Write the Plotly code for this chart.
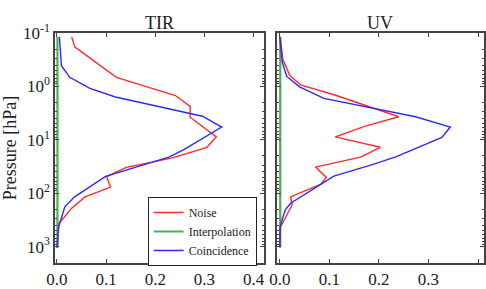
import plotly.graph_objects as go

# ---- data ----
tir_noise_x = [0.030, 0.036, 0.121, 0.241, 0.271, 0.271, 0.324, 0.305, 0.233, 0.141, 0.101, 0.109, 0.057, 0.030, 0.004, 0.001]
tir_noise_p = [0.118, 0.182, 0.675, 1.48, 2.37, 3.78, 8.83, 13.8, 22.0, 32.7, 49.0, 77.0, 117, 190, 370, 1040]

tir_coin_x = [0.005, 0.009, 0.026, 0.067, 0.119, 0.296, 0.335, 0.259, 0.229, 0.099, 0.036, 0.016, 0.003, 0.000]
tir_coin_p = [0.118, 0.41, 0.675, 1.09, 1.58, 3.62, 5.76, 15.1, 20.8, 48.4, 117, 179, 437, 1040]

tir_interp_x = [0.001, 0.001]
tir_interp_p = [0.118, 1040]

uv_noise_x = [0.001, 0.006, 0.020, 0.042, 0.111, 0.179, 0.240, 0.171, 0.112, 0.203, 0.163, 0.072, 0.094, 0.083, 0.022, 0.025, 0.001, 0.000]
uv_noise_p = [0.118, 0.306, 0.62, 0.94, 1.45, 2.34, 3.70, 5.6, 8.8, 13.8, 21.1, 32.4, 50.5, 67.5, 117, 166, 437, 1040]

uv_coin_x = [0.000, 0.005, 0.014, 0.040, 0.089, 0.169, 0.274, 0.344, 0.327, 0.234, 0.185, 0.109, 0.069, 0.042, 0.022, 0.011, 0.001, 0.000]
uv_coin_p = [0.118, 0.35, 0.65, 1.02, 1.68, 2.39, 3.70, 5.76, 9.0, 20.8, 29.4, 47.8, 83, 117, 154, 204, 406, 1020]

uv_interp_x = [0.001, 0.001]
uv_interp_p = [0.118, 1040]

x_ticks = [0.0, 0.1, 0.2, 0.3, 0.4]
x_ticktext = ["0.0", "0.1", "0.2", "0.3", "0.4"]
y_ticks = [0.1, 1, 10, 100, 1000]
y_ticktext = ["10<sup>-1</sup>", "10<sup>0</sup>", "10<sup>1</sup>", "10<sup>2</sup>", "10<sup>3</sup>"]
minor_vals = [m * 10 ** e for e in range(-1, 4) for m in range(2, 10)]

RED = "#ff2a2a"
GREEN = "#4caf50"
BLUE = "#2a2aff"
FONT = "Liberation Serif, Times New Roman, serif"

fig = go.Figure()
# left panel
fig.add_trace(go.Scatter(x=tir_noise_x, y=tir_noise_p, mode="lines", name="Noise",
                         line=dict(color=RED, width=1.4), xaxis="x", yaxis="y"))
fig.add_trace(go.Scatter(x=tir_interp_x, y=tir_interp_p, mode="lines", name="Interpolation",
                         line=dict(color=GREEN, width=2.2), xaxis="x", yaxis="y"))
fig.add_trace(go.Scatter(x=tir_coin_x, y=tir_coin_p, mode="lines", name="Coincidence",
                         line=dict(color=BLUE, width=1.4), xaxis="x", yaxis="y"))
# right panel
fig.add_trace(go.Scatter(x=uv_interp_x, y=uv_interp_p, mode="lines", showlegend=False,
                         line=dict(color=GREEN, width=2.2), xaxis="x2", yaxis="y2"))
fig.add_trace(go.Scatter(x=uv_noise_x, y=uv_noise_p, mode="lines", showlegend=False,
                         line=dict(color=RED, width=1.4), xaxis="x2", yaxis="y2"))
fig.add_trace(go.Scatter(x=uv_coin_x, y=uv_coin_p, mode="lines", showlegend=False,
                         line=dict(color=BLUE, width=1.4), xaxis="x2", yaxis="y2"))

def axis_common():
    return dict(showline=True, linecolor="#444", linewidth=1.5, mirror="allticks",
                ticks="inside", ticklen=4, tickcolor="#444", showgrid=False, zeroline=False,
                tickfont=dict(family=FONT, size=17, color="#222"))

fig.update_layout(
    width=486, height=289,
    margin=dict(l=55, r=0, t=33, b=17),
    paper_bgcolor="white", plot_bgcolor="white",
    font=dict(family=FONT, color="#222"),
    xaxis=dict(domain=[0, 0.487], range=[-0.004, 0.421], tickvals=x_ticks, ticktext=x_ticktext,
               anchor="y", ticklabelstandoff=0, **axis_common()),
    xaxis2=dict(domain=[0.517, 1.0], range=[-0.006, 0.412], tickvals=x_ticks, ticktext=x_ticktext,
                anchor="y2", ticklabelstandoff=0, **axis_common()),
    yaxis=dict(type="log", range=[3.306, -1], tickvals=y_ticks, ticktext=y_ticktext, anchor="x",
               minor=dict(tickvals=minor_vals, ticks="inside", ticklen=2, tickcolor="#444"),
               title=dict(text="Pressure [hPa]", font=dict(family=FONT, size=18), standoff=4),
               **axis_common()),
    yaxis2=dict(type="log", range=[3.306, -1], tickvals=y_ticks, showticklabels=False, anchor="x2",
                minor=dict(tickvals=minor_vals, ticks="inside", ticklen=2, tickcolor="#444"),
                **axis_common()),
    legend=dict(x=0.216, y=-0.013, xanchor="left", yanchor="bottom",
                bordercolor="#222", borderwidth=1, bgcolor="white",
                font=dict(family=FONT, size=12, color="#222"), tracegroupgap=0),
    annotations=[
        dict(text="TIR", x=0.2435, y=1.0, xref="paper", yref="paper", xanchor="center",
             yanchor="bottom", showarrow=False, font=dict(family=FONT, size=18, color="#222"), yshift=-2),
        dict(text="UV", x=0.7585, y=1.0, xref="paper", yref="paper", xanchor="center",
             yanchor="bottom", showarrow=False, font=dict(family=FONT, size=18, color="#222"), yshift=-2),
    ],
)

fig.write_html("out.html")
